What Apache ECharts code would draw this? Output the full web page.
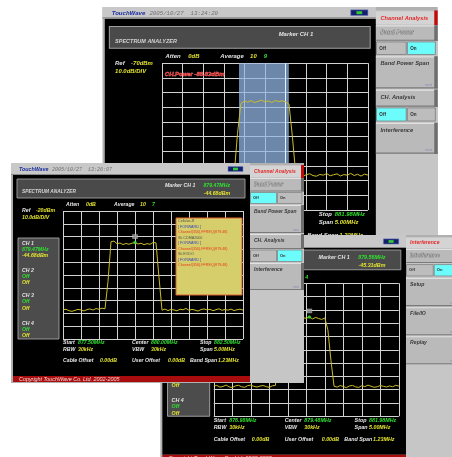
<!DOCTYPE html>
<html><head><meta charset="utf-8">
<script src="https://cdn.jsdelivr.net/npm/echarts/dist/echarts.min.js"></script>
<style>html,body{margin:0;padding:0;background:#fff}#c{width:452px;height:457px}</style>
</head><body><div id="c"></div>
<script>
// ---------- DATA (sample index 0..60 across the 5 MHz span) ----------
const levelsA = [
-146.5,-145.8,-146.9,-146.0,-145.5,-146.8,-147.2,-146.1,-145.7,-146.6,
-147.0,-146.2,-145.4,-146.3,-147.1,-146.5,-145.9,-146.4,-147.3,-146.0,
-145.6,-146.8,-118.0,-97.5,-95.8,-96.6,-95.5,-96.9,-96.0,-95.2,
-96.4,-95.7,-96.8,-95.4,-96.2,-95.6,-96.5,-97.8,-120.0,-146.2,
-145.5,-146.9,-146.1,-145.3,-146.6,-147.0,-145.8,-146.3,-145.2,-146.7,
-146.0,-145.4,-146.8,-145.9,-146.3,-145.1,-146.5,-145.7,-146.9,-145.6,
-146.2];
const levelsB = [
-97.2,-96.8,-97.9,-98.4,-97.6,-96.9,-97.3,-98.1,-97.0,-96.5,
-97.4,-96.2,-96.8,-95.9,-96.4,-75.0,-44.0,-43.5,-45.6,-45.0,
-46.2,-45.4,-46.0,-45.1,-44.7,-45.8,-45.2,-46.3,-45.5,-46.0,
-44.6,-44.9,-72.0,-97.5,-96.6,-97.8,-96.9,-97.3,-98.0,-96.7,
-97.2,-96.1,-97.6,-96.9,-97.4,-98.2,-97.0,-96.5,-97.3,-96.8,
-97.9,-97.1,-96.4,-97.6,-96.9,-97.5,-96.6,-97.8,-97.1,-96.7,
-97.4];
const levelsC = [
-97.3,-96.8,-98.1,-97.6,-96.5,-97.9,-98.4,-97.2,-96.7,-97.8,
-98.2,-97.0,-96.6,-97.5,-98.0,-97.3,-96.9,-97.7,-98.3,-97.1,
-96.8,-72.0,-48.5,-46.2,-45.8,-46.9,-46.0,-45.5,-46.7,-45.9,
-46.4,-45.3,-46.8,-45.7,-46.5,-47.2,-46.1,-55.0,-78.0,-97.4,
-98.1,-96.9,-97.6,-98.5,-97.2,-96.8,-97.9,-98.3,-97.0,-97.7,
-96.6,-97.4,-98.2,-97.8,-96.9,-97.5,-98.0,-97.2,-97.8,-96.7,
-97.3];
const markerB = [24, -44.68];
const markerC = [31, -45.31];
const startA = 876.98, bandA = [878.85, 880.06], bandLineA = 879.97;
const rangeA = [-170, -70], rangeB = [-120, -20], rangeC = [-120, -20];
const freqsA = ['876.98MHz','879.48MHz','881.98MHz'];
const freqsB = ['877.50MHz','880.00MHz','882.50MHz'];
const freqsC = ['876.98MHz','879.48MHz','881.98MHz'];
const popupLines = ['Cellular-R','[ FORWARD ]','Channel(356),FFREQ(879.48)','Sk CDMA2000','[ FORWARD ]','Channel(356),FFREQ(879.48)','Sk EVDO','[ FORWARD ]','Channel(356),FFREQ(879.48)'];

// ---------- STYLE ----------
const FN='"Liberation Sans"';
const F = {
  lab:'italic bold 5.2px '+FN, hdr:'italic bold 4.8px '+FN, title:'italic bold 5.3px '+FN,
  date:'italic 5px "Liberation Mono"', panel:'italic bold 5px '+FN, btn:'bold 4px '+FN,
  tiny:'3.2px '+FN, pop:'3.7px '+FN, copy:'italic 5.4px '+FN
};
const WH='#e4e4e4', GR='#30e030', YE='#e4e430', RD='#e42828';

function R(x,y,w,h,fill,z,stroke,lw){const st={fill:fill};if(stroke){st.stroke=stroke;st.lineWidth=lw||1;}return {type:'rect',shape:{x:x,y:y,width:w,height:h},style:st,z:z,silent:true};}
function L(x1,y1,x2,y2,stroke,z,w){return {type:'line',shape:{x1:x1,y1:y1,x2:x2,y2:y2},style:{stroke:stroke,lineWidth:w||1},z:z,silent:true};}
function T(x,y,text,fill,font,z,align,extra){return {type:'text',x:x,y:y,style:Object.assign({text:text,fill:fill,font:font,align:align||'left',verticalAlign:'middle'},extra||{}),z:z,silent:true};}

const panelChannel = (bp, ch) => [
  {t:'tab',y0:3,y1:14,label:'Channel Analysis'},
  {t:'sec',y0:15,y1:28.5,label:'Band Power',emb:true},
  {t:'btn',y0:29.5,y1:40.5,on:bp},
  {t:'sec',y0:42,y1:70,label:'Band Power Span',next:true},
  {t:'sec',y0:71,y1:86,label:'CH. Analysis'},
  {t:'btn',y0:87,y1:98.5,on:ch},
  {t:'sec',y0:100,y1:127,label:'Interference',next:true}
];
const panelInterf = [
  {t:'tab',y0:4,y1:14,label:'Interference'},
  {t:'sec',y0:15,y1:28.5,label:'Interference',emb:true},
  {t:'btn',y0:30,y1:41,on:true},
  {t:'sec',y0:43,y1:70,label:'Setup',next:true},
  {t:'sec',y0:71,y1:98,label:'File/IO',next:true},
  {t:'sec',y0:99,y1:126,label:'Replay',next:true}
];

const screens = [
 {key:'A', ox:102.5, oy:8.1, kx:1.144, ky:1.147, z:0, titleTop:-1, titleH:10, panelTop:2,
  date:'2005/10/27  13:24:29', levels:levelsA, range:rangeA, ref:'-70dBm', avg2:'9',
  mk:null, freqs:freqsA, panel:panelChannel(true,false), chPanel:false},
 {key:'C', ox:160.3, oy:233.4, kx:1.028, ky:1.039, z:10, titleTop:1.5, titleH:12.5, panelTop:4,
  date:null, levels:levelsC, range:rangeC, ref:'-20dBm', avg2:'4',
  mk:markerC, mkText:['879.56MHz','-45.31dBm'], freqs:freqsC, panel:panelInterf, chPanel:true},
 {key:'B', ox:11, oy:163, kx:1, ky:1, z:20, titleTop:0, titleH:12, panelTop:2,
  date:'2005/10/27  13:26:07', levels:levelsB, range:rangeB, ref:'-20dBm', avg2:'7',
  mk:markerB, mkText:['879.47MHz','-44.68dBm'], freqs:freqsB, panel:panelChannel(false,true), chPanel:true, popup:true}
];

function buildScreen(s){
  const z=s.z, c=[], tT=s.titleTop, tH=s.titleH, bT=tT+tH;
  c.push(R(0,tT,293,220-tT,'#b0b0b0',z+1));
  c.push(R(0,tT,239,tH,'#c8c8c8',z+2));
  c.push(L(0,bT-0.5,239,bT-0.5,'#8a8a8a',z+2));
  if(s.date){
    c.push(T(8,tT+tH/2+0.5,'TouchWave','#1c2ca0',F.title,z+3));
    c.push(T(41,tT+tH/2+0.5,s.date,'#707070',F.date,z+3));
  }
  const iy=tT+tH/2-2.5;
  c.push(R(217,iy,15,5,'#14206e',z+3,'#7080c0',0.5));
  c.push(R(222,iy+1.2,5,2.6,'#34c834',z+4));
  c.push(R(2,bT,237,213-bT,'#000000',z+1));
  // header
  c.push(R(6,16,228,19,'#4a4a4a',z+2,'#a0a0a0',0.9));
  c.push(T(11,29,'SPECTRUM ANALYZER','#d4d4d4',F.hdr,z+3));
  c.push(T(154,23,'Marker CH 1',WH,F.lab,z+3));
  if(s.mkText){c.push(T(219,23,s.mkText[0],GR,F.lab,z+3,'right'));c.push(T(219,31,s.mkText[1],YE,F.lab,z+3,'right'));}
  c.push(T(55,42,'Atten',WH,F.lab,z+3)); c.push(T(75,42,'0dB',YE,F.lab,z+3));
  c.push(T(103,42,'Average',WH,F.lab,z+3)); c.push(T(129,42,'10',YE,F.lab,z+3)); c.push(T(141,42,s.avg2,GR,F.lab,z+3));
  c.push(T(11,48,'Ref',WH,F.lab,z+3)); c.push(T(25,48,s.ref,YE,F.lab,z+3)); c.push(T(11,55,'10.0dB/DIV',YE,F.lab,z+3));
  // bottom rows
  const b=[[52,180,'Start',67,s.freqs[0],GR],[121,180,'Center',140,s.freqs[1],GR],[189,180,'Stop',203,s.freqs[2],GR],
           [52,187,'RBW',67,'30kHz',YE],[121,187,'VBW',140,'30kHz',YE],[189,187,'Span',203,'5.00MHz',YE],
           [52,198,'Cable Offset',89,'0.00dB',YE],[121,198,'User Offset',157,'0.00dB',YE],[179,198,'Band Span',207,'1.23MHz',YE]];
  b.forEach(r=>{c.push(T(r[0],r[1],r[2],WH,F.lab,z+3));c.push(T(r[3],r[1],r[4],r[5],F.lab,z+3));});
  c.push(R(2,213,237,6,'#a80c0c',z+2));
  c.push(T(8,216.3,'Copyright TouchWave Co. Ltd. 2002-2005','#f4dada',F.copy,z+3));
  if(s.chPanel){
    c.push(R(7,75,41,101,'#4c4c4c',z+2,'#a4a4a4',0.9));
    const ch=[[81,'CH 1',WH],[87,s.mkText[0],GR],[93,s.mkText[1],YE],[108,'CH 2',WH],[114,'Off',GR],[120,'Off',YE],
              [133,'CH 3',WH],[139,'Off',GR],[146,'Off',YE],[161,'CH 4',WH],[167,'Off',GR],[173,'Off',YE]];
    ch.forEach(r=>c.push(T(11,r[0],r[1],r[2],F.lab,z+3)));
  }
  if(s.key==='A'){
    c.push(T(54.5,57.5,'CH.Power -88.83dBm','#ff3a3a',F.lab,z+6,'left',{stroke:'#ff9a9a',lineWidth:0.3}));
  }
  // right panel
  c.push(R(239,s.panelTop,54,220-s.panelTop,'#c6c6c6',z+2));
  s.panel.forEach(it=>{
    const h=it.y1-it.y0;
    if(it.t==='tab'){
      c.push(R(239,it.y0,54,h,'#d4d4d4',z+3));
      c.push(R(290,it.y0-1,3,h+2,'#c20c0c',z+3));
      c.push(T(243,it.y0+h/2+0.3,it.label,RD,F.panel,z+4));
    } else if(it.t==='sec'){
      c.push(R(239,it.y0,54,h,'#bababa',z+3));
      c.push(L(239,it.y0+0.5,290,it.y0+0.5,'#e2e2e2',z+4));
      c.push(L(239,it.y1-0.5,293,it.y1-0.5,'#7a7a7a',z+4));
      c.push(R(290,it.y0,3,h,'#6e6e6e',z+4));
      if(it.emb) c.push(T(243,it.y0+6.5,it.label,'#c4c4c4',F.panel,z+4,'left',{stroke:'#4a4a4a',lineWidth:0.45}));
      else c.push(T(243,it.y0+6.5,it.label,'#3a3a3a',F.panel,z+4));
      if(it.next) c.push(T(288,it.y1-3,'next','#8a8ab8',F.tiny,z+4,'right'));
    } else {
      c.push(R(239.5,it.y0,26,h,it.on?'#bdbdbd':'#6cfcfc',z+3,'#7c7c7c',0.7));
      c.push(R(266.5,it.y0,24.5,h,it.on?'#6cfcfc':'#bdbdbd',z+3,'#7c7c7c',0.7));
      c.push(T(242,it.y0+h/2,'Off','#303030',F.btn,z+4));
      c.push(T(269,it.y0+h/2,'On','#303030',F.btn,z+4));
    }
  });
  if(s.popup){
    c.push(R(165,55,66,77,'#d6ce6a',z+6,'#e0602c',1));
    const cols=['#555555','#3844c0','#e83c1c'];
    popupLines.forEach((t,i)=>c.push(T(167,58+i*5.5,t,cols[i%3],F.pop,z+7)));
  }
  return {type:'group',x:s.ox,y:s.oy,scaleX:s.kx,scaleY:s.ky,children:c};
}

const series=[];
screens.forEach((s,i)=>{
  const ser={type:'line',xAxisIndex:i,yAxisIndex:i,z:s.z+4,showSymbol:false,silent:true,
    lineStyle:{color:'#cbbd28',width:1},itemStyle:{color:'#cbbd28'},
    data:s.levels.map((v,j)=>[j,v])};
  if(s.key==='A'){
    ser.markArea={silent:true,z:s.z+3,itemStyle:{color:'rgba(146,182,230,0.74)'},
      data:[[{xAxis:(bandA[0]-startA)*12},{xAxis:(bandA[1]-startA)*12}]]};
    ser.markLine={silent:true,z:s.z+3,symbol:'none',label:{show:false},lineStyle:{color:'#e8f2ff',width:1,type:'solid'},
      data:[{xAxis:(bandLineA-startA)*12}]};
  }
  series.push(ser);
  if(s.mk){
    series.push({type:'scatter',xAxisIndex:i,yAxisIndex:i,z:s.z+5,silent:true,symbol:'rect',symbolSize:[5,4],symbolOffset:[0,-6],
      itemStyle:{color:'#9a9a9a',borderColor:'#d0d0d0',borderWidth:0.5},data:[s.mk]});
    series.push({type:'scatter',xAxisIndex:i,yAxisIndex:i,z:s.z+5,silent:true,symbol:'circle',symbolSize:3.5,
      itemStyle:{color:'#30e030'},data:[s.mk]});
  }
});

const option={
  animation:false, backgroundColor:'#ffffff',
  graphic:{elements:screens.map(buildScreen)},
  grid:screens.map(s=>({left:s.ox+52*s.kx,top:s.oy+48*s.ky,width:180*s.kx,height:128*s.ky,show:false})),
  xAxis:screens.map((s,i)=>({type:'value',gridIndex:i,min:0,max:60,interval:6,z:s.z+2,
    axisLine:{show:false},axisTick:{show:false},axisLabel:{show:false},splitLine:{show:true,lineStyle:{color:'#d2d2d2',width:1}}})),
  yAxis:screens.map((s,i)=>({type:'value',gridIndex:i,min:s.range[0],max:s.range[1],interval:10,z:s.z+2,
    axisLine:{show:false},axisTick:{show:false},axisLabel:{show:false},splitLine:{show:true,lineStyle:{color:'#d2d2d2',width:1}}})),
  series:series
};
const chart=echarts.init(document.getElementById('c'),null,{renderer:'canvas'});
chart.setOption(option);
</script></body></html>
